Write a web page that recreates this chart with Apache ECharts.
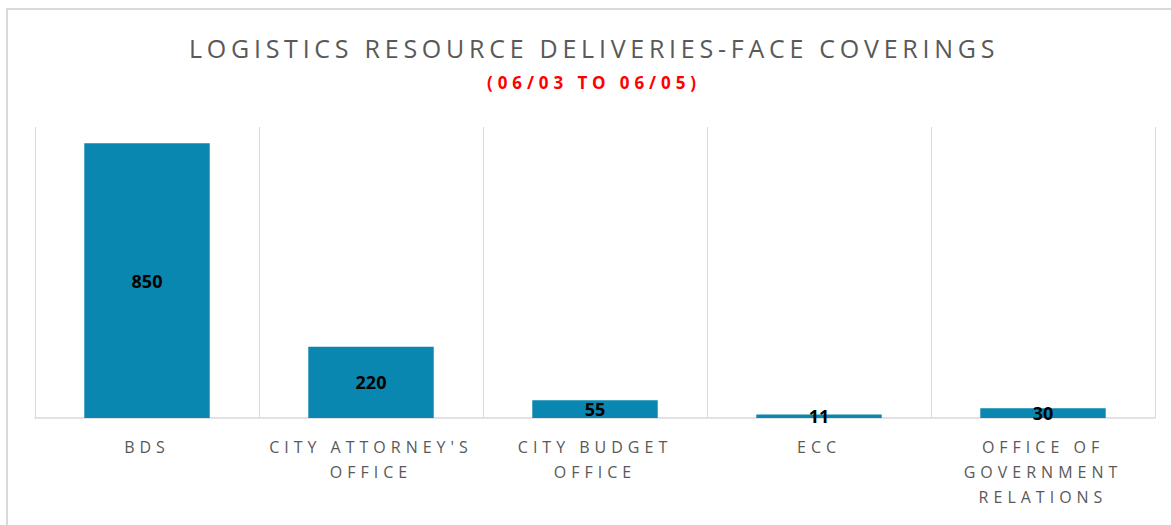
<!DOCTYPE html>
<html><head><meta charset="utf-8">
<script src="https://cdn.jsdelivr.net/npm/echarts@6/dist/echarts.min.js"></script>
<style>html,body{margin:0;padding:0;background:#fff}#c{width:1171px;height:525px}</style>
</head><body><div id="c"></div>
<script>
const categories = ["BDS", "CITY ATTORNEY'S\nOFFICE", "CITY BUDGET\nOFFICE", "ECC", "OFFICE OF\nGOVERNMENT\nRELATIONS"];
const values = [850, 220, 55, 11, 30];
const titleText = "LOGISTICS RESOURCE DELIVERIES-FACE COVERINGS";
const subtitleText = "(06/03 TO 06/05)";

const chart = echarts.init(document.getElementById('c'), null, {renderer: 'svg'});

const categoryLines = new Set();
categories.forEach(c => c.split('\n').forEach(l => categoryLines.add(l)));

function applySpacing() {
  document.querySelectorAll('#c text').forEach(t => {
    const s = t.textContent;
    let ls = null;
    if (s === titleText) ls = '4.75px';
    else if (s === subtitleText) ls = '4.9px';
    else if (categoryLines.has(s)) ls = '5px';
    if (ls) { t.setAttribute('letter-spacing', ls); t.style.letterSpacing = ls; }
  });
}
chart.on('rendered', applySpacing);
chart.on('finished', applySpacing);

chart.setOption({
  animation: false,
  title: [{
    text: titleText,
    left: 184,
    top: 30,
    textStyle: {fontFamily: 'Open Sans', fontSize: 25, fontWeight: 'normal', color: '#595959'}
  }, {
    text: subtitleText,
    left: 482,
    top: 69,
    textStyle: {fontFamily: 'Open Sans', fontSize: 17, fontWeight: 'bold', color: '#ff0000'}
  }],
  graphic: [
    {type: 'polyline', shape: {points: [[7, 525], [7, 9], [1171, 9]]}, style: {stroke: '#d9d9d9', lineWidth: 2, fill: null}, silent: true}
  ],
  grid: {left: 35, right: 16, top: 127, bottom: 107},
  xAxis: {
    type: 'category',
    data: categories,
    axisLine: {lineStyle: {color: '#d9d9d9', width: 1.5}},
    axisTick: {show: false},
    splitLine: {show: true, lineStyle: {color: '#d9d9d9', width: 1}},
    axisLabel: {interval: 0, margin: 16, lineHeight: 25, fontFamily: 'Open Sans', fontSize: 16, color: '#595959'}
  },
  yAxis: {type: 'value', min: 0, max: 900, show: false, splitLine: {show: false}},
  series: [{
    type: 'bar',
    data: values,
    barWidth: '56%',
    itemStyle: {color: '#0a87b0'},
    label: {show: true, position: 'inside', fontFamily: 'Open Sans', fontWeight: 'bold', fontSize: 18, color: '#000'}
  }]
});
applySpacing();
setTimeout(applySpacing, 50);
</script></body></html>
